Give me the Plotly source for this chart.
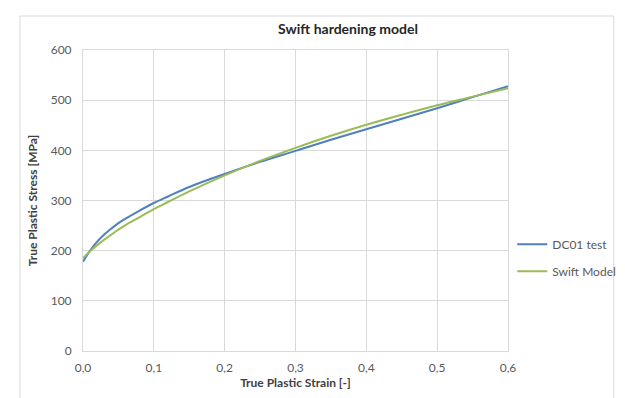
import plotly.graph_objects as go

strain = [0.0, 0.01, 0.02, 0.03, 0.04, 0.05, 0.06, 0.08, 0.10, 0.12, 0.15,
          0.20, 0.25, 0.30, 0.35, 0.40, 0.45, 0.50, 0.55, 0.60]
dc01_test = [178, 200, 218, 232, 244, 255, 264, 280, 295, 308, 327,
             353, 377, 399, 421, 442, 463, 484, 506, 528]
swift_model = [185, 199, 211, 222, 232, 242, 251, 267, 283, 297, 318,
               350, 379, 405, 429, 451, 471, 490, 507, 524]

x_ticks = [0.0, 0.1, 0.2, 0.3, 0.4, 0.5, 0.6]
x_tick_labels = ["0,0", "0,1", "0,2", "0,3", "0,4", "0,5", "0,6"]
y_ticks = [0, 100, 200, 300, 400, 500, 600]

FONT = "Lato"
fig = go.Figure()
fig.add_trace(go.Scatter(x=strain, y=dc01_test, mode="lines", name="DC01 test",
                         legendgroup="a",
                         line=dict(color="#4F81BD", width=2, shape="spline")))
fig.add_trace(go.Scatter(x=strain, y=swift_model, mode="lines", name="Swift Model",
                         legendgroup="b",
                         line=dict(color="#9BBB59", width=2, shape="spline")))

fig.update_layout(
    width=625, height=398,
    margin=dict(l=75, r=112, t=42, b=55),
    paper_bgcolor="white", plot_bgcolor="white",
    font=dict(family=FONT, size=12, color="#595959"),
    title=dict(text="<b>Swift hardening model</b>", x=340/625, xanchor="center",
               y=1 - 21/398, yanchor="middle",
               font=dict(family=FONT, size=14, color="#262626")),
    xaxis=dict(range=[0, 0.6], tickvals=x_ticks, ticktext=x_tick_labels,
               showgrid=True, gridcolor="#D9D9D9", gridwidth=1,
               showline=True, linecolor="#D9D9D9", mirror=True,
               zeroline=False, ticks="outside", ticklen=6, tickcolor="rgba(0,0,0,0)",
               title=dict(text="<b>True Plastic Strain [-]</b>", standoff=4,
                          font=dict(family=FONT, size=12, color="#404040"))),
    yaxis=dict(range=[0, 600], tickvals=y_ticks,
               showgrid=True, gridcolor="#D9D9D9", gridwidth=1,
               showline=True, linecolor="#D9D9D9", mirror=True,
               zeroline=False, ticks="outside", ticklen=8, tickcolor="rgba(0,0,0,0)",
               title=dict(text="<b>True Plastic Stress [MPa]</b>", standoff=10,
                          font=dict(family=FONT, size=12, color="#404040"))),
    legend=dict(x=1.01, xanchor="left", y=0.31, yanchor="middle",
                font=dict(family=FONT, size=12, color="#595959"),
                bgcolor="rgba(0,0,0,0)", tracegroupgap=8, itemwidth=30),
    showlegend=True,
)

# chart-area border (Excel-like)
fig.add_shape(type="rect", xref="paper", yref="paper",
              x0=(10 - 75) / 438, x1=(622 - 75) / 438,
              y0=(343 - 400) / 301, y1=(343 - 8) / 301,
              line=dict(color="#D9D9D9", width=1), layer="below")

fig.write_html("out.html")
